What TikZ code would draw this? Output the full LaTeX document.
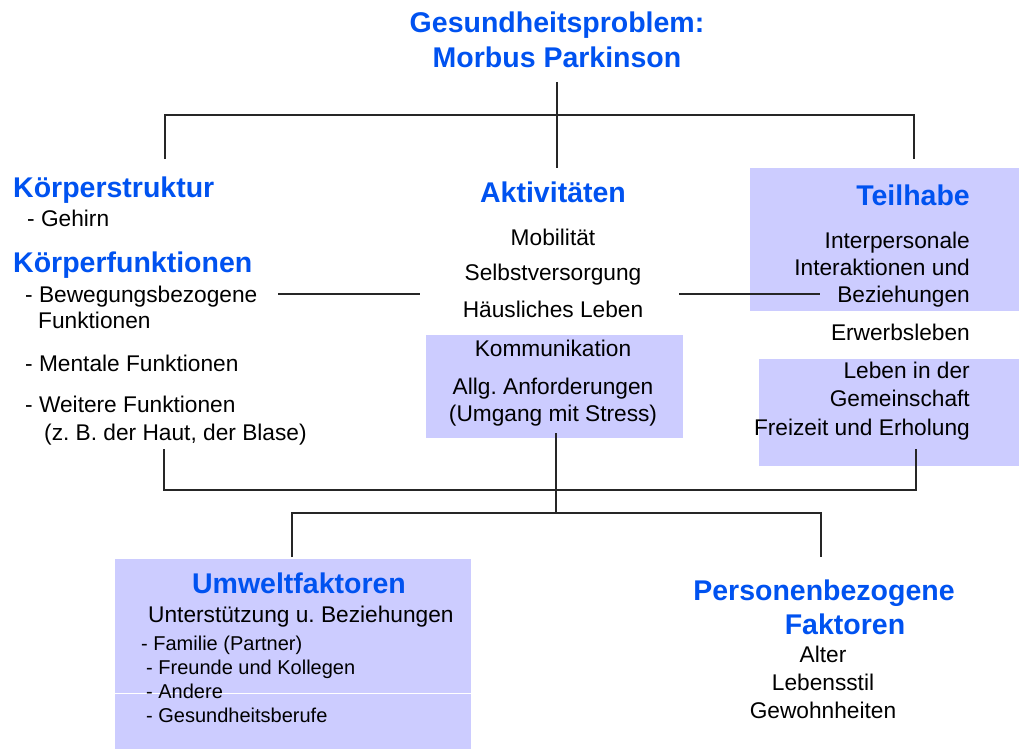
\documentclass[tikz,border=0pt]{standalone}
\usepackage{fontspec}
\setmainfont{Liberation Sans}
\frenchspacing
\definecolor{icfblue}{RGB}{0,82,240}
\definecolor{boxfill}{RGB}{204,204,255}
\begin{document}
\begin{tikzpicture}[x=1pt,y=-1pt,
	head/.style={inner sep=0pt,text=icfblue,font=\fontsize{28.5}{34}\selectfont\bfseries},
	item/.style={inner sep=0pt,font=\fontsize{22.7}{27}\selectfont},
	small/.style={inner sep=0pt,font=\fontsize{20}{24}\selectfont},
	link/.style={line width=1.3pt,draw=black!85}]
	\useasboundingbox (0,0) rectangle (1022,749);
	\fill[boxfill] (426,335) rectangle (683,438);
	\fill[boxfill] (750,168) rectangle (1019,311);
	\fill[boxfill] (759,359) rectangle (1019,466);
	\fill[boxfill] (115,559) rectangle (471,749);
	\draw [white,line width=1pt] (115,693) -- (471,693);
	\node (prob1) at (557,33) [head,anchor=base] {Gesundheitsproblem:};
	\node (prob2) at (557,68) [head,anchor=base] {Morbus Parkinson};
	\node (kstr) at (13,197) [head,anchor=base west] {Körperstruktur};
	\node (geh) at (27,226) [item,anchor=base west] {- Gehirn};
	\node (kfkt) at (13,272) [head,anchor=base west] {Körperfunktionen};
	\node (bew1) at (25,302) [item,anchor=base west] {- Bewegungsbezogene};
	\node (bew2) at (38,328) [item,anchor=base west] {Funktionen};
	\node (ment) at (25,371) [item,anchor=base west] {- Mentale Funktionen};
	\node (weit1) at (25,412) [item,anchor=base west] {- Weitere Funktionen};
	\node (weit2) at (44,440) [item,anchor=base west] {(z. B. der Haut, der Blase)};
	\node (akt) at (553,202) [head,anchor=base] {Aktivitäten};
	\node (mob) at (553,245) [item,anchor=base] {Mobilität};
	\node (selb) at (553,280) [item,anchor=base] {Selbstversorgung};
	\node (haus) at (553,317) [item,anchor=base] {Häusliches Leben};
	\node (komm) at (553,356) [item,anchor=base] {Kommunikation};
	\node (allg1) at (553,394) [item,anchor=base] {Allg. Anforderungen};
	\node (allg2) at (553,421) [item,anchor=base] {(Umgang mit Stress)};
	\node (teil) at (970,205) [head,anchor=base east] {Teilhabe};
	\node (inter1) at (970,248) [item,anchor=base east] {Interpersonale};
	\node (inter2) at (970,275) [item,anchor=base east] {Interaktionen und};
	\node (inter3) at (970,302) [item,anchor=base east] {Beziehungen};
	\node (erw) at (970,340) [item,anchor=base east] {Erwerbsleben};
	\node (gem1) at (970,378) [item,anchor=base east] {Leben in der};
	\node (gem2) at (970,406) [item,anchor=base east] {Gemeinschaft};
	\node (frei) at (970,435) [item,anchor=base east] {Freizeit und Erholung};
	\node (umw) at (299,593) [head,anchor=base] {Umweltfaktoren};
	\node (unt) at (148,622) [item,anchor=base west] {Unterstützung u. Beziehungen};
	\node (fam) at (141,650) [small,anchor=base west] {- Familie (Partner)};
	\node (freu) at (146,674) [small,anchor=base west] {- Freunde und Kollegen};
	\node (and) at (146,698) [small,anchor=base west] {- Andere};
	\node (ges) at (146,722) [small,anchor=base west] {- Gesundheitsberufe};
	\node (pers1) at (824,600) [head,anchor=base] {Personenbezogene};
	\node (pers2) at (845,634) [head,anchor=base] {Faktoren};
	\node (alt) at (823,662) [item,anchor=base] {Alter};
	\node (leb) at (823,690) [item,anchor=base] {Lebensstil};
	\node (gew) at (823,718) [item,anchor=base] {Gewohnheiten};
	\coordinate (Ttop) at (557,82);
	\coordinate (Tbot) at (557,168);
	\coordinate (TL) at (165,115);
	\coordinate (TR) at (914,115);
	\coordinate (TLd) at (165,159);
	\coordinate (TRd) at (914,159);
	\coordinate (ML1) at (278,294);
	\coordinate (ML2) at (420,294);
	\coordinate (MR1) at (679,294);
	\coordinate (MR2) at (820,294);
	\coordinate (Ctop) at (556,433);
	\coordinate (Cbot) at (556,514);
	\coordinate (BLu) at (164,449);
	\coordinate (BL) at (164,490);
	\coordinate (BRu) at (916,449);
	\coordinate (BR) at (916,490);
	\coordinate (EL) at (292,513);
	\coordinate (ER) at (821,513);
	\coordinate (ELd) at (292,557);
	\coordinate (ERd) at (821,557);
	\draw [link] (Ttop) -- (Tbot);
	\draw [link] (TLd) -- (TL) -- (TR) -- (TRd);
	\draw [link] (ML1) -- (ML2);
	\draw [link] (MR1) -- (MR2);
	\draw [link] (Ctop) -- (Cbot);
	\draw [link] (BLu) -- (BL) -- (BR) -- (BRu);
	\draw [link] (ELd) -- (EL) -- (ER) -- (ERd);
\end{tikzpicture}
\end{document}
